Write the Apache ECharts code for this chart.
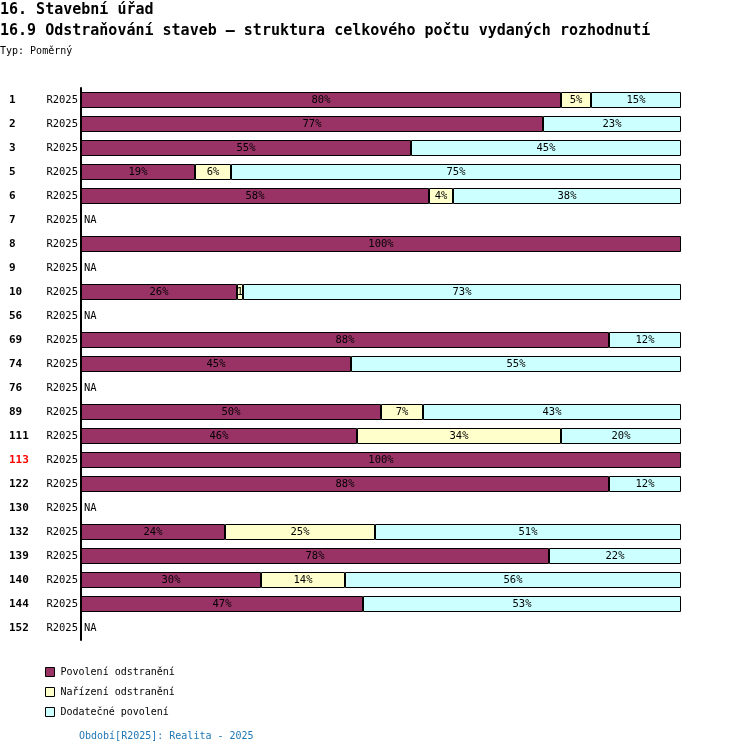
<!DOCTYPE html>
<html>
<head>
<meta charset="utf-8">
<script src="https://cdn.jsdelivr.net/npm/echarts@6/dist/echarts.min.js"></script>
<style>
  html, body { margin: 0; padding: 0; background: #fff; }
  #chart { width: 750px; height: 754px; }
</style>
</head>
<body>
<div id="chart"></div>
<script>
// data (null = NA)
const codes = ['1', '2', '3', '5', '6', '7', '8', '9', '10', '56', '69', '74', '76', '89', '111', '113', '122', '130', '132', '139', '140', '144', '152']
const period = 'R2025'
const highlight = '113'
const seriesNames = ['Povolení odstranění', 'Nařízení odstranění', 'Dodatečné povolení']
const povoleni =  [80, 77, 55, 19, 58, null, 100, null, 26, null, 88, 45, null, 50, 46, 100, 88, null, 24, 78, 30, 47, null]
const narizeni =  [5, 0, 0, 6, 4, null, 0, null, 1, null, 0, 0, null, 7, 34, 0, 0, null, 25, 0, 14, 0, null]
const dodatecne = [15, 23, 45, 75, 38, null, 0, null, 73, null, 12, 55, null, 43, 20, 0, 12, null, 51, 22, 56, 53, null]
const colors = ['#993366', '#ffffcc', '#ccffff']

const FONT = 'DejaVu Sans Mono'

// převod hodnot na data serie (0 a NA se nekreslí)
function toData (arr) {
  return arr.map(v => {
    if (v == null || v === 0) return '-'
    if (v < 3) {
      // úzký segment - popisek se ořízne
      return { value: v, label: { width: 10, overflow: 'truncate', ellipsis: '' } }
    }
    return v
  })
}

const series = [povoleni, narizeni, dodatecne].map((arr, i) => ({
  name: seriesNames[i],
  type: 'bar',
  stack: 'total',
  barWidth: 16,
  data: toData(arr),
  itemStyle: { color: colors[i], borderColor: '#000', borderWidth: 1 },
  label: {
    show: true,
    position: 'inside',
    color: '#000',
    fontFamily: FONT,
    fontSize: 10.5,
    formatter: p => p.value + '%'
  },
  silent: true
}))

// NA popisky
series.push({
  name: 'NA',
  type: 'bar',
  stack: 'total',
  barWidth: 16,
  data: povoleni.map(v => v == null ? 0 : '-'),
  itemStyle: { color: 'transparent', borderWidth: 0 },
  label: {
    show: true,
    position: 'right',
    distance: 3,
    color: '#000',
    fontFamily: FONT,
    fontSize: 10.5,
    formatter: 'NA'
  },
  silent: true
})

const titleStyle = { fontFamily: FONT, fontSize: 15, fontWeight: 'bold', color: '#000' }
const smallStyle = { fontFamily: FONT, fontSize: 10, fontWeight: 'normal', color: '#000' }

const option = {
  animation: false,
  backgroundColor: '#fff',
  title: [
    { text: '16. Stavební úřad', left: 0, top: 3, padding: 0, textStyle: titleStyle },
    { text: '16.9 Odstraňování staveb – struktura celkového počtu vydaných rozhodnutí', left: 0, top: 24, padding: 0, textStyle: titleStyle },
    { text: 'Typ: Poměrný', left: 0, top: 46, padding: 0, textStyle: smallStyle },
    { text: 'Období[' + period + ']: Realita - 2025', left: 79, top: 731, padding: 0,
      textStyle: { fontFamily: FONT, fontSize: 10, fontWeight: 'normal', color: '#1f77b4' } }
  ],
  legend: {
    orient: 'vertical',
    left: 40,
    top: 662,
    itemWidth: 9,
    itemHeight: 9,
    itemGap: 10,
    icon: 'rect',
    data: seriesNames,
    itemStyle: { borderColor: '#000', borderWidth: 1 },
    textStyle: { fontFamily: FONT, fontSize: 10, color: '#000', padding: [0, 0, 0, 1] }
  },
  grid: { left: 81, right: 69, top: 88, height: 552 },
  xAxis: { type: 'value', min: 0, max: 100, show: false },
  yAxis: {
    type: 'category',
    inverse: true,
    data: codes,
    axisLine: { show: true, lineStyle: { color: '#000', width: 2 } },
    axisTick: { show: false },
    axisLabel: {
      margin: 3,
      align: 'right',
      formatter: v => (v === highlight ? '{h|' + v + '}' : '{n|' + v + '}') + '{r|' + period + '}',
      rich: {
        n: { width: 37, align: 'left', fontFamily: FONT, fontSize: 11, fontWeight: 'bold', color: '#000' },
        h: { width: 37, align: 'left', fontFamily: FONT, fontSize: 11, fontWeight: 'bold', color: '#ff0000' },
        r: { width: 32, align: 'right', fontFamily: FONT, fontSize: 10.5, color: '#000' }
      }
    }
  },
  series
}

const chart = echarts.init(document.getElementById('chart'))
chart.setOption(option)
</script>
</body>
</html>
